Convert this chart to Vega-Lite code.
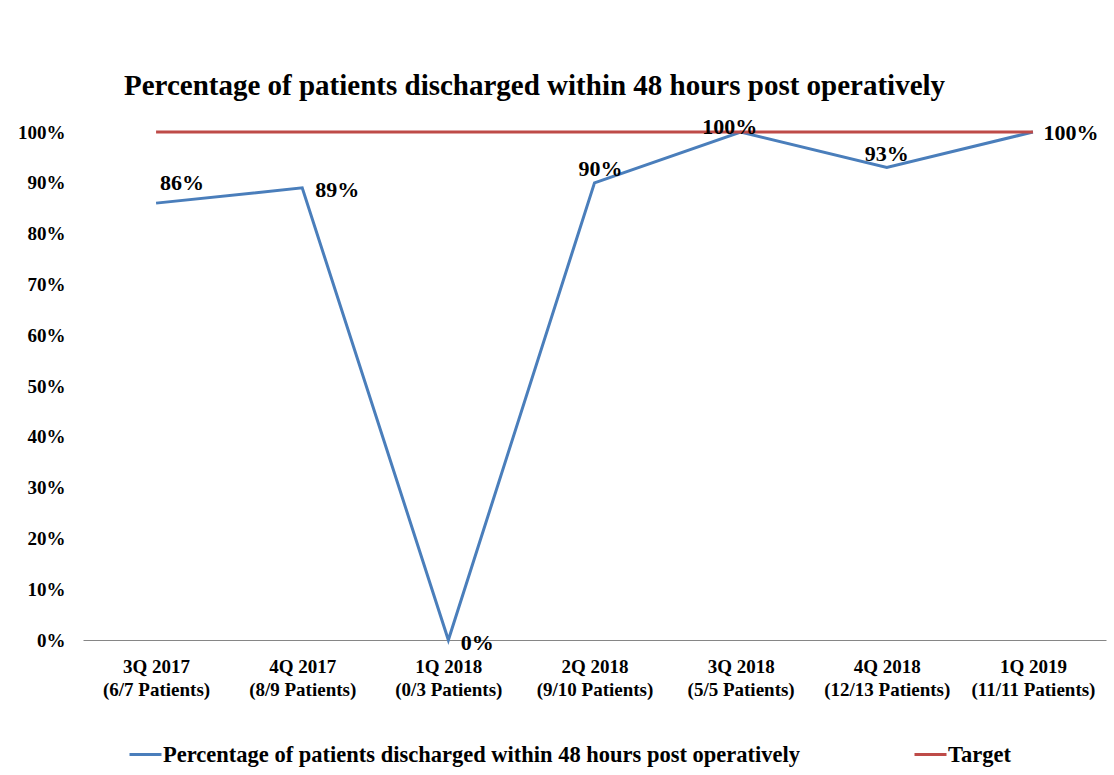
{
  "$schema": "https://vega.github.io/schema/vega-lite/v6.json",
  "width": 1023,
  "height": 508,
  "autosize": {"type": "none"},
  "padding": {"left": 83, "top": 132, "right": 8, "bottom": 135},
  "background": "white",
  "config": {"font": "Liberation Serif", "view": {"stroke": null}},
  "title": {
    "text": "Percentage of patients discharged within 48 hours post operatively",
    "font": "Liberation Serif",
    "fontSize": 29,
    "fontWeight": "bold",
    "color": "black",
    "anchor": "start",
    "frame": "group",
    "dx": 41,
    "offset": 15
  },
  "data": {
    "values": [
      {"q": "3Q 2017|(6/7 Patients)", "series": "Percentage of patients discharged within 48 hours post operatively", "value": 0.86},
      {"q": "4Q 2017|(8/9 Patients)", "series": "Percentage of patients discharged within 48 hours post operatively", "value": 0.89},
      {"q": "1Q 2018|(0/3 Patients)", "series": "Percentage of patients discharged within 48 hours post operatively", "value": 0.0},
      {"q": "2Q 2018|(9/10 Patients)", "series": "Percentage of patients discharged within 48 hours post operatively", "value": 0.9},
      {"q": "3Q 2018|(5/5 Patients)", "series": "Percentage of patients discharged within 48 hours post operatively", "value": 1.0},
      {"q": "4Q 2018|(12/13 Patients)", "series": "Percentage of patients discharged within 48 hours post operatively", "value": 0.93},
      {"q": "1Q 2019|(11/11 Patients)", "series": "Percentage of patients discharged within 48 hours post operatively", "value": 1.0},
      {"q": "3Q 2017|(6/7 Patients)", "series": "Target", "value": 1.0},
      {"q": "4Q 2017|(8/9 Patients)", "series": "Target", "value": 1.0},
      {"q": "1Q 2018|(0/3 Patients)", "series": "Target", "value": 1.0},
      {"q": "2Q 2018|(9/10 Patients)", "series": "Target", "value": 1.0},
      {"q": "3Q 2018|(5/5 Patients)", "series": "Target", "value": 1.0},
      {"q": "4Q 2018|(12/13 Patients)", "series": "Target", "value": 1.0},
      {"q": "1Q 2019|(11/11 Patients)", "series": "Target", "value": 1.0}
    ]
  },
  "encoding": {
    "x": {
      "field": "q",
      "type": "nominal",
      "sort": null,
      "scale": {"type": "point", "padding": 0.5},
      "axis": {
        "title": null,
        "labelAngle": 0,
        "labelExpr": "split(datum.label, '|')",
        "labelFont": "Liberation Serif",
        "labelFontSize": 19,
        "labelFontWeight": "bold",
        "labelColor": "black",
        "labelLineHeight": 23,
        "labelPadding": 17,
        "labelLimit": 400,
        "ticks": false,
        "domainColor": "#868686",
        "domainWidth": 1,
        "grid": false
      }
    },
    "y": {
      "field": "value",
      "type": "quantitative",
      "scale": {"domain": [0, 1], "nice": false},
      "axis": {
        "title": null,
        "values": [0, 0.1, 0.2, 0.3, 0.4, 0.5, 0.6, 0.7, 0.8, 0.9, 1],
        "format": ".0%",
        "labelFont": "Liberation Serif",
        "labelFontSize": 19,
        "labelFontWeight": "bold",
        "labelColor": "black",
        "labelPadding": 18,
        "domain": false,
        "ticks": false,
        "grid": false
      }
    }
  },
  "layer": [
    {
      "mark": {"type": "line", "strokeWidth": 3},
      "encoding": {
        "color": {
          "field": "series",
          "type": "nominal",
          "scale": {
            "domain": ["Percentage of patients discharged within 48 hours post operatively", "Target"],
            "range": ["#4A7EBB", "#BE4B48"]
          },
          "legend": {
            "title": null,
            "orient": "none",
            "legendX": 45,
            "legendY": 605,
            "direction": "horizontal",
            "symbolType": "stroke",
            "symbolSize": 1024,
            "symbolStrokeWidth": 3,
            "labelFont": "Liberation Serif",
            "labelFontSize": 22.5,
            "labelFontWeight": "bold",
            "labelColor": "black",
            "labelLimit": 1000,
            "labelOffset": 0,
            "columnPadding": 107
          }
        }
      }
    },
    {
      "transform": [{"filter": "datum.series != 'Target' && datum.q == '3Q 2017|(6/7 Patients)'"}],
      "mark": {"type": "text", "fontSize": 22, "fontWeight": "bold", "color": "black", "align": "center", "baseline": "alphabetic", "dx": 26, "dy": -13},
      "encoding": {"text": {"field": "value", "type": "quantitative", "format": ".0%"}}
    },
    {
      "transform": [{"filter": "datum.series != 'Target' && datum.q == '4Q 2017|(8/9 Patients)'"}],
      "mark": {"type": "text", "fontSize": 22, "fontWeight": "bold", "color": "black", "align": "center", "baseline": "alphabetic", "dx": 35, "dy": 9},
      "encoding": {"text": {"field": "value", "type": "quantitative", "format": ".0%"}}
    },
    {
      "transform": [{"filter": "datum.series != 'Target' && datum.q == '1Q 2018|(0/3 Patients)'"}],
      "mark": {"type": "text", "fontSize": 22, "fontWeight": "bold", "color": "black", "align": "center", "baseline": "alphabetic", "dx": 29, "dy": 10},
      "encoding": {"text": {"field": "value", "type": "quantitative", "format": ".0%"}}
    },
    {
      "transform": [{"filter": "datum.series != 'Target' && datum.q == '2Q 2018|(9/10 Patients)'"}],
      "mark": {"type": "text", "fontSize": 22, "fontWeight": "bold", "color": "black", "align": "center", "baseline": "alphabetic", "dx": 6, "dy": -7},
      "encoding": {"text": {"field": "value", "type": "quantitative", "format": ".0%"}}
    },
    {
      "transform": [{"filter": "datum.series != 'Target' && datum.q == '3Q 2018|(5/5 Patients)'"}],
      "mark": {"type": "text", "fontSize": 22, "fontWeight": "bold", "color": "black", "align": "center", "baseline": "alphabetic", "dx": -11, "dy": 2},
      "encoding": {"text": {"field": "value", "type": "quantitative", "format": ".0%"}}
    },
    {
      "transform": [{"filter": "datum.series != 'Target' && datum.q == '4Q 2018|(12/13 Patients)'"}],
      "mark": {"type": "text", "fontSize": 22, "fontWeight": "bold", "color": "black", "align": "center", "baseline": "alphabetic", "dx": 0, "dy": -7},
      "encoding": {"text": {"field": "value", "type": "quantitative", "format": ".0%"}}
    },
    {
      "transform": [{"filter": "datum.series != 'Target' && datum.q == '1Q 2019|(11/11 Patients)'"}],
      "mark": {"type": "text", "fontSize": 22, "fontWeight": "bold", "color": "black", "align": "center", "baseline": "alphabetic", "dx": 38, "dy": 8},
      "encoding": {"text": {"field": "value", "type": "quantitative", "format": ".0%"}}
    }
  ]
}
